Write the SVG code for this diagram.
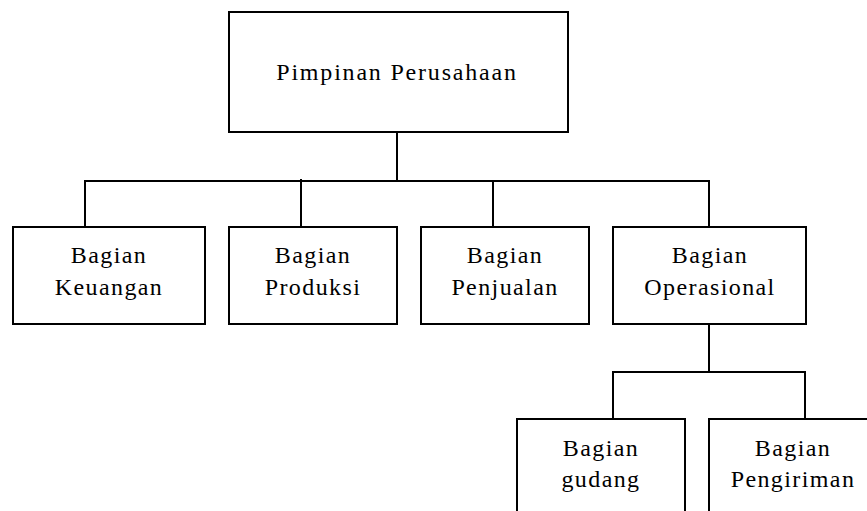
<svg xmlns="http://www.w3.org/2000/svg" width="867" height="511" viewBox="0 0 867 511">
  <style>
    .box { fill: #ffffff; stroke: #000000; stroke-width: 2; }
    .link { fill: none; stroke: #000000; stroke-width: 2; }
    text { font-family: "Liberation Serif", "Times New Roman", serif; font-size: 24px; letter-spacing: 1.4px; fill: #000000; text-anchor: middle; }
    .title { letter-spacing: 1.8px; }
  </style>
  <rect width="867" height="511" fill="#ffffff"/>

  <!-- connectors -->
  <g id="connectors">
    <path class="link" d="M397 132 V181"/>
    <path class="link" d="M85 227 V181 H709 V227"/>
    <path class="link" d="M301 179 V227"/>
    <path class="link" d="M493 181 V227"/>
    <path class="link" d="M709 324 V372"/>
    <path class="link" d="M613 419 V372 H805 V419"/>
  </g>

  <!-- nodes -->
  <g id="pimpinan">
    <rect class="box" x="229" y="12" width="339" height="120"/>
    <text class="title" x="397" y="80">Pimpinan  Perusahaan</text>
  </g>
  <g id="keuangan">
    <rect class="box" x="13" y="227" width="192" height="97"/>
    <text x="109" y="263">Bagian</text>
    <text x="109" y="295">Keuangan</text>
  </g>
  <g id="produksi">
    <rect class="box" x="229" y="227" width="168" height="97"/>
    <text x="313" y="263">Bagian</text>
    <text x="313" y="295">Produksi</text>
  </g>
  <g id="penjualan">
    <rect class="box" x="421" y="227" width="168" height="97"/>
    <text x="505" y="263">Bagian</text>
    <text x="505" y="295">Penjualan</text>
  </g>
  <g id="operasional">
    <rect class="box" x="613" y="227" width="193" height="97"/>
    <text x="710" y="263">Bagian</text>
    <text x="710" y="295">Operasional</text>
  </g>
  <g id="gudang">
    <rect class="box" x="517" y="419" width="168" height="110"/>
    <text x="601" y="456">Bagian</text>
    <text x="601" y="487">gudang</text>
  </g>
  <g id="pengiriman">
    <rect class="box" x="709" y="419" width="168" height="110"/>
    <text x="793" y="456">Bagian</text>
    <text x="793" y="487">Pengiriman</text>
  </g>
</svg>
